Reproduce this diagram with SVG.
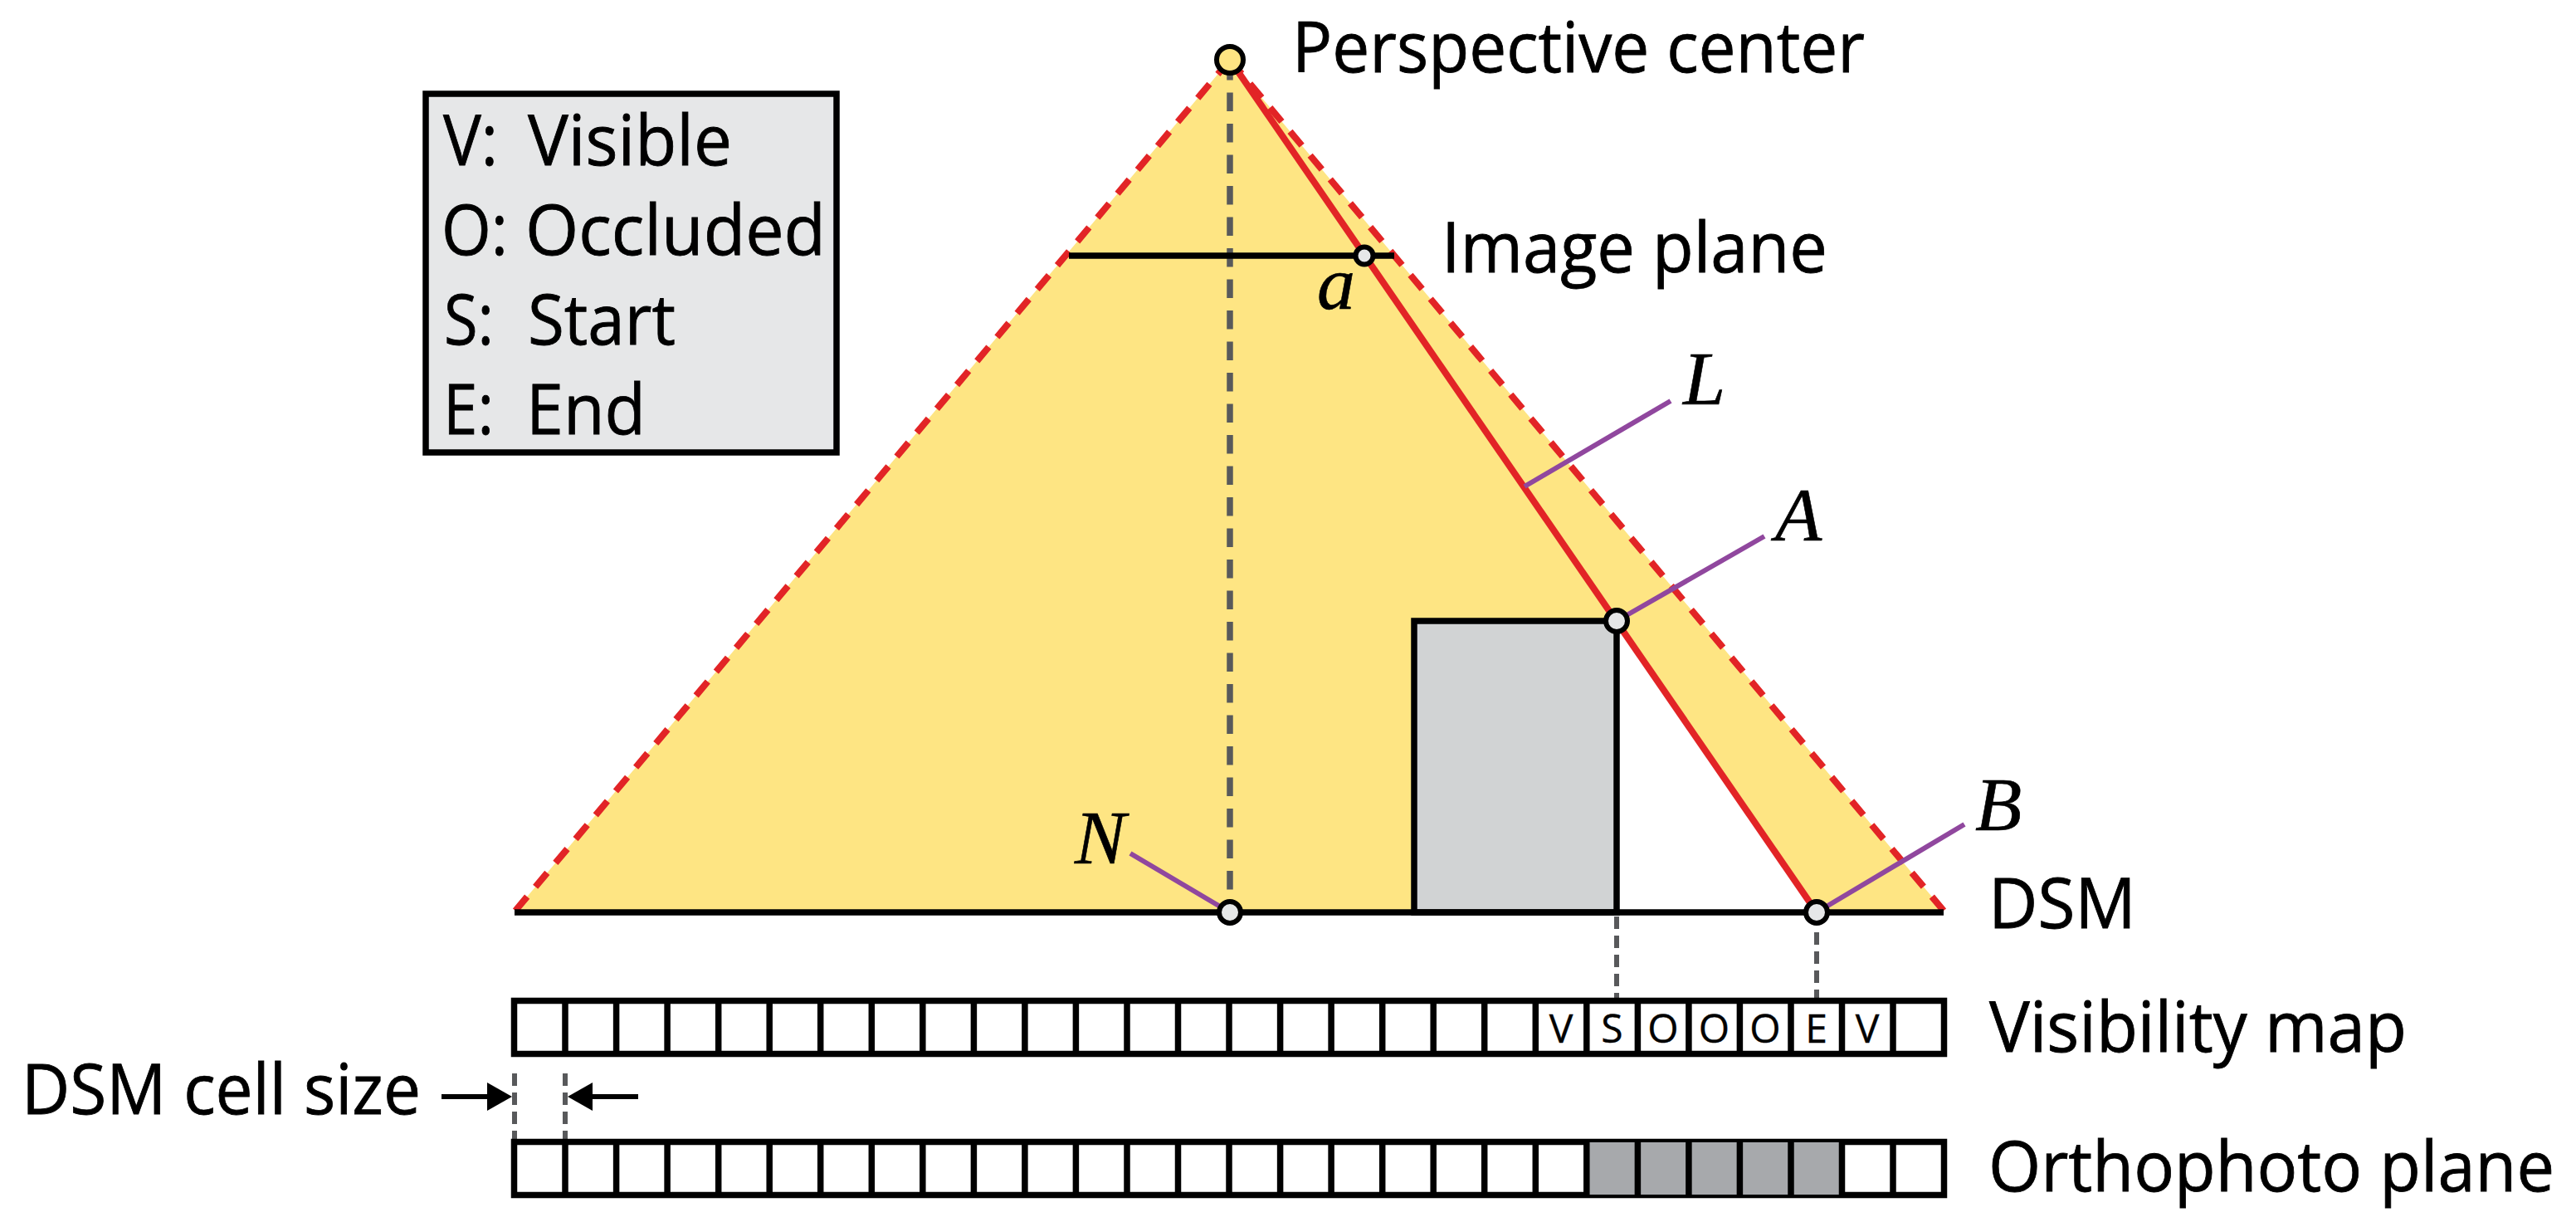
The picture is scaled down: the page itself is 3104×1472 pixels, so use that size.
<svg xmlns="http://www.w3.org/2000/svg" width="3104" height="1472" viewBox="0 0 3104 1472">
<style>
text{font-family:"Open Sans","Noto Sans","Liberation Sans",sans-serif;font-size:84px;fill:#000;stroke:#000;stroke-width:.8}
.m{font-family:"Liberation Serif",serif;font-style:italic;font-size:92px;stroke-width:.6}
.c{font-size:48px;text-anchor:middle;stroke-width:.4}
.k{fill:none;stroke:#000;stroke-width:7.5}
.gd{fill:none;stroke:#58595b;stroke-width:6;stroke-dasharray:15 8}
.gv{fill:none;stroke:#58595b;stroke-width:7.5;stroke-dasharray:22.5 15}
.rd{fill:none;stroke:#e22426;stroke-width:8;stroke-dasharray:22 15.6}
.rs{fill:none;stroke:#e22426;stroke-width:8}
.pu{fill:none;stroke:#90479e;stroke-width:6}
.pt{fill:#e6e7e8;stroke:#000;stroke-width:6}
.ar{fill:none;stroke:#000;stroke-width:6}
</style>
<defs>
<marker id="head" markerUnits="userSpaceOnUse" viewBox="0 0 30 34" refX="0" refY="17" markerWidth="30" markerHeight="34" orient="auto"><path d="M0 0L30 17L0 34Z" fill="#000"/></marker>
</defs>
<rect width="3104" height="1472" fill="#fff"/>
<g id="field">
<path d="M1482 72L2342 1097H621Z" fill="#fee583"/>
<path d="M1948 748L2189 1097H1948Z" fill="#fff"/>
</g>
<g id="building"><rect x="1704" y="748" width="244" height="351" fill="#d1d3d4" stroke="#000" stroke-width="7.5"/></g>
<g id="connectors">
<path class="rd" d="M621 1097L1482 72"/>
<path class="rd" d="M2342 1097L1482 72"/>
<path class="gv" d="M1482 74V1099"/>
<path class="k" d="M1288 308H1680"/>
<path class="k" d="M620 1099H2342"/>
<path class="rs" d="M1482 72L2189 1099"/>
<path class="pu" d="M1837 586L2013 483"/>
<path class="pu" d="M1948 748L2126 646"/>
<path class="pu" d="M2189 1099L2367 993"/>
<path class="pu" d="M1482 1099L1362 1028"/>
<path class="gd" d="M1948 1104V1202"/>
<path class="gd" d="M2189 1123V1202"/>
<path class="gd" d="M620 1293V1372"/>
<path class="gd" d="M681 1293V1372"/>
<path class="ar" d="M532 1321H587" marker-end="url(#head)"/>
<path class="ar" d="M769 1321H714" marker-end="url(#head)"/>
</g>
<g id="perspective-center"><ellipse cx="1482" cy="72" rx="16" ry="16" fill="#fee583" stroke="#000" stroke-width="6"/><text x="1557" y="87" textLength="690" lengthAdjust="spacingAndGlyphs">Perspective center</text></g>
<g id="image-plane-label"><text x="1737" y="328" textLength="465" lengthAdjust="spacingAndGlyphs">Image plane</text></g>
<g id="point-a"><circle class="pt" cx="1644" cy="308" r="10.5"/><text class="m" x="1587" y="372">a</text></g>
<g id="label-L"><text class="m" x="2028" y="487">L</text></g>
<g id="point-A"><circle class="pt" cx="1948" cy="748" r="13"/><text class="m" x="2139" y="651">A</text></g>
<g id="point-B"><circle class="pt" cx="2189" cy="1099" r="13"/><text class="m" x="2380" y="1000">B</text></g>
<g id="point-N"><circle class="pt" cx="1482" cy="1099" r="13"/><text class="m" x="1295" y="1040">N</text></g>
<g id="legend">
<rect x="513" y="113" width="495" height="432" fill="#e6e7e8" stroke="#000" stroke-width="7.5"/>
<text x="534" y="199" textLength="66" lengthAdjust="spacingAndGlyphs">V:</text><text x="636" y="199" textLength="246" lengthAdjust="spacingAndGlyphs">Visible</text>
<text x="532" y="307" textLength="80" lengthAdjust="spacingAndGlyphs">O:</text><text x="633" y="307" textLength="362" lengthAdjust="spacingAndGlyphs">Occluded</text>
<text x="535" y="415" textLength="60" lengthAdjust="spacingAndGlyphs">S:</text><text x="636" y="415" textLength="178" lengthAdjust="spacingAndGlyphs">Start</text>
<text x="534" y="523" textLength="61" lengthAdjust="spacingAndGlyphs">E:</text><text x="634" y="523" textLength="144" lengthAdjust="spacingAndGlyphs">End</text>
</g>
<g id="dsm-label"><text x="2396" y="1118" textLength="178" lengthAdjust="spacingAndGlyphs">DSM</text></g>
<g id="visibility-map">
<rect x="619.5" y="1205.5" width="1723" height="64" fill="#fff" stroke="#000" stroke-width="7.5"/>
<path class="k" d="M681 1206V1269M742.6 1206V1269M804.1 1206V1269M865.7 1206V1269M927.2 1206V1269M988.7 1206V1269M1050.3 1206V1269M1111.8 1206V1269M1173.4 1206V1269M1234.9 1206V1269M1296.4 1206V1269M1358 1206V1269M1419.5 1206V1269M1481 1206V1269M1542.6 1206V1269M1604.1 1206V1269M1665.7 1206V1269M1727.2 1206V1269M1788.7 1206V1269M1850.3 1206V1269M1911.8 1206V1269M1973.4 1206V1269M2034.9 1206V1269M2096.4 1206V1269M2158 1206V1269M2219.5 1206V1269M2281 1206V1269"/>
<text class="c" x="1881" y="1256">V</text><text class="c" x="1942.5" y="1256">S</text><text class="c" x="2004" y="1256">O</text><text class="c" x="2065.5" y="1256">O</text><text class="c" x="2127" y="1256">O</text><text class="c" x="2188.5" y="1256">E</text><text class="c" x="2250" y="1256">V</text>
<text x="2397" y="1267" textLength="503" lengthAdjust="spacingAndGlyphs">Visibility map</text>
</g>
<g id="dsm-cell-size"><text x="26" y="1342" textLength="481" lengthAdjust="spacingAndGlyphs">DSM cell size</text></g>
<g id="orthophoto-plane">
<rect x="619.5" y="1375.5" width="1723" height="64" fill="#fff" stroke="#000" stroke-width="7.5"/>
<rect x="1911.8" y="1376" width="307.7" height="63" fill="#a7a9ac"/>
<path class="k" d="M681 1376V1439M742.6 1376V1439M804.1 1376V1439M865.7 1376V1439M927.2 1376V1439M988.7 1376V1439M1050.3 1376V1439M1111.8 1376V1439M1173.4 1376V1439M1234.9 1376V1439M1296.4 1376V1439M1358 1376V1439M1419.5 1376V1439M1481 1376V1439M1542.6 1376V1439M1604.1 1376V1439M1665.7 1376V1439M1727.2 1376V1439M1788.7 1376V1439M1850.3 1376V1439M1911.8 1376V1439M1973.4 1376V1439M2034.9 1376V1439M2096.4 1376V1439M2158 1376V1439M2219.5 1376V1439M2281 1376V1439"/>
<text x="2396" y="1435" textLength="682" lengthAdjust="spacingAndGlyphs">Orthophoto plane</text>
</g>
</svg>
